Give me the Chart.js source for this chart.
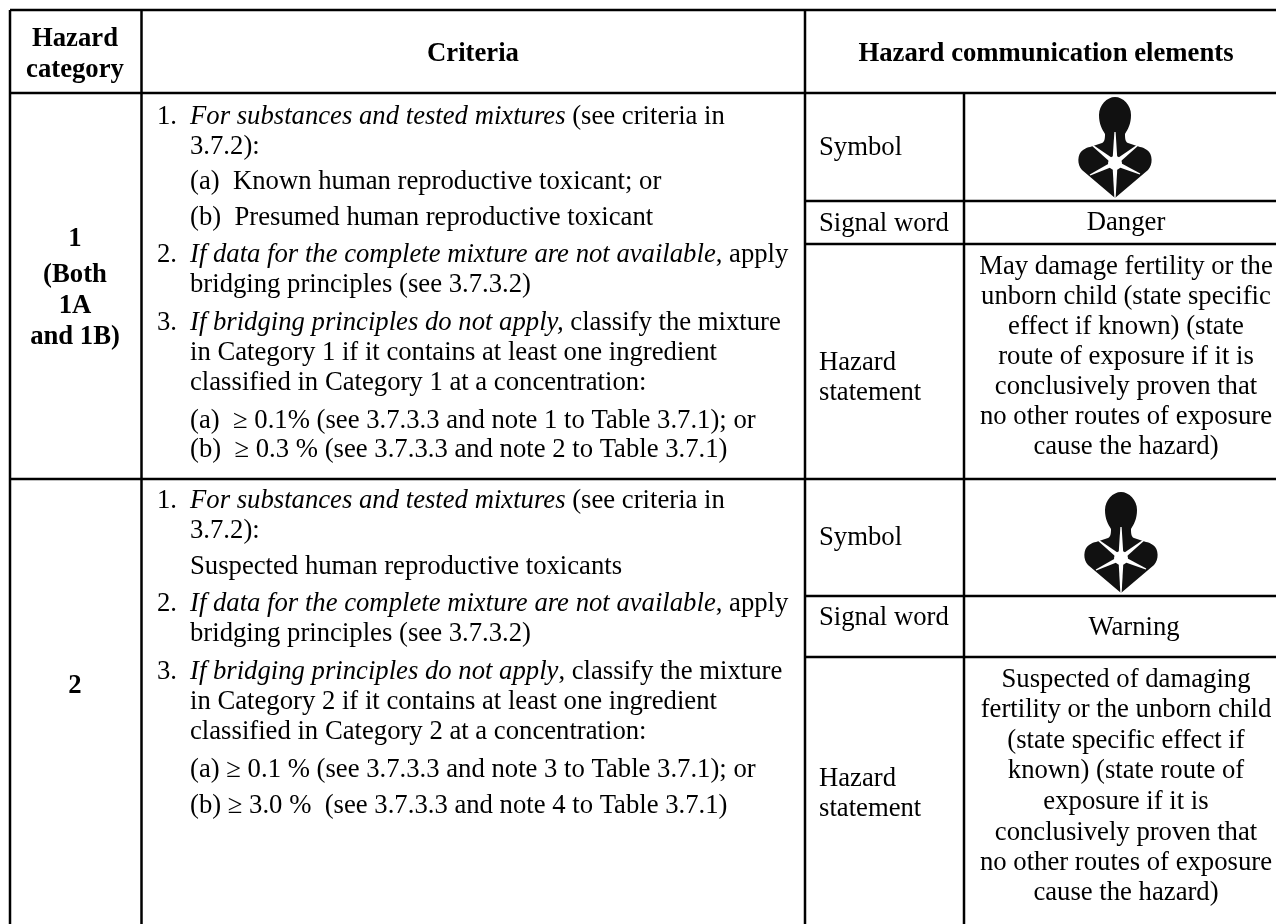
<!DOCTYPE html>
<html>
<head>
<meta charset="utf-8">
<style>
  html, body { margin: 0; background: #fff; }
  #wrap { width: 1276px; height: 924px; }
</style>
<script src="https://cdn.jsdelivr.net/npm/chart.js@4/dist/chart.umd.min.js"></script>
</head>
<body>
<div id="wrap"><canvas id="myChart" width="1276" height="924"></canvas></div>
<script>
// table rules: [x1, y1, x2, y2] in page units
var tableRules = [
  [10, 10, 1276, 10], [10, 93, 1276, 93], [10, 479, 1276, 479],
  [10, 10, 10, 924], [141.5, 10, 141.5, 924], [805, 10, 805, 924],
  [964, 93, 964, 924],
  [805, 201, 1276, 201], [805, 244, 1276, 244],
  [805, 596, 1276, 596], [805, 657, 1276, 657]
];

// text lines: [text, x, baseline, align, style]
var tableText = [
  ['Hazard', 75, 46, 'center', 'b'], ['category', 75, 77, 'center', 'b'],
  ['Criteria', 473, 61, 'center', 'b'],
  ['Hazard communication elements', 1046, 61, 'center', 'b'],
  ['1', 75, 246, 'center', 'b'], ['(Both', 75, 282, 'center', 'b'],
  ['1A', 75, 313, 'center', 'b'], ['and 1B)', 75, 344, 'center', 'b'],
  ['2', 75, 693, 'center', 'b'],

  ['1.', 157, 124, 'left', ''], ['For substances and tested mixtures', 190, 124, 'left', 'i'], [' (see criteria in', 0, 124, 'after', ''],
  ['3.7.2):', 190, 154, 'left', ''],
  ['(a)  Known human reproductive toxicant; or', 190, 189, 'left', ''],
  ['(b)  Presumed human reproductive toxicant', 190, 225, 'left', ''],
  ['2.', 157, 262, 'left', ''], ['If data for the complete mixture are not available', 190, 262, 'left', 'i'], [', apply', 0, 262, 'after', ''],
  ['bridging principles (see 3.7.3.2)', 190, 292, 'left', ''],
  ['3.', 157, 330, 'left', ''], ['If bridging principles do not apply,', 190, 330, 'left', 'i'], [' classify the mixture', 0, 330, 'after', ''],
  ['in Category 1 if it contains at least one ingredient', 190, 360, 'left', ''],
  ['classified in Category 1 at a concentration:', 190, 390, 'left', ''],
  ['(a)  \u2265 0.1% (see 3.7.3.3 and note 1 to Table 3.7.1); or', 190, 428, 'left', ''],
  ['(b)  \u2265 0.3 % (see 3.7.3.3 and note 2 to Table 3.7.1)', 190, 457, 'left', ''],

  ['1.', 157, 508, 'left', ''], ['For substances and tested mixtures', 190, 508, 'left', 'i'], [' (see criteria in', 0, 508, 'after', ''],
  ['3.7.2):', 190, 538, 'left', ''],
  ['Suspected human reproductive toxicants', 190, 574, 'left', ''],
  ['2.', 157, 611, 'left', ''], ['If data for the complete mixture are not available', 190, 611, 'left', 'i'], [', apply', 0, 611, 'after', ''],
  ['bridging principles (see 3.7.3.2)', 190, 641, 'left', ''],
  ['3.', 157, 679, 'left', ''], ['If bridging principles do not apply', 190, 679, 'left', 'i'], [', classify the mixture', 0, 679, 'after', ''],
  ['in Category 2 if it contains at least one ingredient', 190, 709, 'left', ''],
  ['classified in Category 2 at a concentration:', 190, 739, 'left', ''],
  ['(a) \u2265 0.1 % (see 3.7.3.3 and note 3 to Table 3.7.1); or', 190, 777, 'left', ''],
  ['(b) \u2265 3.0 %  (see 3.7.3.3 and note 4 to Table 3.7.1)', 190, 813, 'left', ''],

  ['Symbol', 819, 155, 'left', ''], ['Signal word', 819, 231, 'left', ''],
  ['Hazard', 819, 370, 'left', ''], ['statement', 819, 400, 'left', ''],
  ['Danger', 1126, 230, 'center', ''],
  ['May damage fertility or the', 1126, 274, 'center', ''],
  ['unborn child (state specific', 1126, 304, 'center', ''],
  ['effect if known) (state', 1126, 334, 'center', ''],
  ['route of exposure if it is', 1126, 364, 'center', ''],
  ['conclusively proven that', 1126, 394, 'center', ''],
  ['no other routes of exposure', 1126, 424, 'center', ''],
  ['cause the hazard)', 1126, 454, 'center', ''],

  ['Symbol', 819, 545, 'left', ''], ['Signal word', 819, 625, 'left', ''],
  ['Hazard', 819, 786, 'left', ''], ['statement', 819, 816, 'left', ''],
  ['Warning', 1134, 635, 'center', ''],
  ['Suspected of damaging', 1126, 687, 'center', ''],
  ['fertility or the unborn child', 1126, 717, 'center', ''],
  ['(state specific effect if', 1126, 748, 'center', ''],
  ['known) (state route of', 1126, 778, 'center', ''],
  ['exposure if it is', 1126, 809, 'center', ''],
  ['conclusively proven that', 1126, 840, 'center', ''],
  ['no other routes of exposure', 1126, 870, 'center', ''],
  ['cause the hazard)', 1126, 900, 'center', '']
];

// where the two pictograms go: [centre x, tip y]
var symbolSpots = [[1115, 198], [1121, 593]];

var ruleSets = tableRules.map(function (r) {
  return {
    data: [{ x: r[0], y: r[1] }, { x: r[2], y: r[3] }],
    showLine: true,
    borderColor: '#000',
    borderWidth: 2.5,
    pointRadius: 0,
    fill: false
  };
});

function drawSymbol(ctx, cx, tip) {
  ctx.fillStyle = '#111';
  // one half, then mirrored
  [-1, 1].forEach(function (s) {
    ctx.beginPath();
    ctx.moveTo(cx, tip);
    ctx.lineTo(cx + s * 33, tip - 28);
    ctx.bezierCurveTo(cx + s * 38, tip - 33, cx + s * 38, tip - 44, cx + s * 32, tip - 48);
    ctx.bezierCurveTo(cx + s * 29, tip - 50, cx + s * 27, tip - 51, cx + s * 25, tip - 51);
    ctx.lineTo(cx + s * 13, tip - 55);
    ctx.bezierCurveTo(cx + s * 10, tip - 56, cx + s * 10, tip - 61, cx + s * 10, tip - 64);
    ctx.bezierCurveTo(cx + s * 13, tip - 69, cx + s * 16, tip - 74, cx + s * 16, tip - 83);
    ctx.bezierCurveTo(cx + s * 16, tip - 93, cx + s * 8, tip - 101, cx, tip - 101);
    ctx.closePath();
    ctx.fill();
  });
  // white burst from the middle
  ctx.fillStyle = '#fff';
  var burstY = tip - 35;
  var arms = [[0, -31], [-23, -18], [23, -18], [-25, 12], [25, 11], [0, 35]];
  arms.forEach(function (a) {
    var len = Math.sqrt(a[0] * a[0] + a[1] * a[1]);
    var nx = -a[1] / len * 2.6;
    var ny = a[0] / len * 2.6;
    ctx.beginPath();
    ctx.moveTo(cx + nx, burstY + ny);
    ctx.lineTo(cx + a[0] + nx * 0.25, burstY + a[1] + ny * 0.25);
    ctx.lineTo(cx + a[0] - nx * 0.25, burstY + a[1] - ny * 0.25);
    ctx.lineTo(cx - nx, burstY - ny);
    ctx.closePath();
    ctx.fill();
  });
  ctx.beginPath();
  ctx.arc(cx, burstY, 7, 0, Math.PI * 2);
  ctx.fill();
}

var tablePlugin = {
  id: 'tablePlugin',
  afterDatasetsDraw: function (chart) {
    var ctx = chart.ctx;
    var sx = chart.scales.x;
    var sy = chart.scales.y;
    ctx.save();
    ctx.fillStyle = '#000';
    ctx.textBaseline = 'alphabetic';
    var lastEnd = 0;
    tableText.forEach(function (t) {
      var style = t[4] === 'b' ? 'bold ' : t[4] === 'i' ? 'italic ' : '';
      ctx.font = style + '26.7px "Liberation Serif"';
      var px = t[3] === 'after' ? lastEnd : sx.getPixelForValue(t[1]);
      ctx.textAlign = t[3] === 'center' ? 'center' : 'left';
      ctx.fillText(t[0], px, sy.getPixelForValue(t[2]));
      lastEnd = px + ctx.measureText(t[0]).width;
    });
    symbolSpots.forEach(function (s) {
      drawSymbol(ctx, sx.getPixelForValue(s[0]), sy.getPixelForValue(s[1]));
    });
    ctx.restore();
  }
};

var ctx = document.getElementById('myChart').getContext('2d');

var myChart = new Chart(ctx, {
  type: 'scatter',
  data: { datasets: ruleSets },
  plugins: [tablePlugin],
  options: {
    responsive: false,
    animation: false,
    layout: { padding: 0 },
    plugins: { legend: { display: false }, tooltip: { enabled: false } },
    scales: {
      x: { type: 'linear', min: 0, max: 1276, display: false },
      y: { type: 'linear', min: 0, max: 924, reverse: true, display: false }
    }
  }
});
</script>
</body>
</html>
